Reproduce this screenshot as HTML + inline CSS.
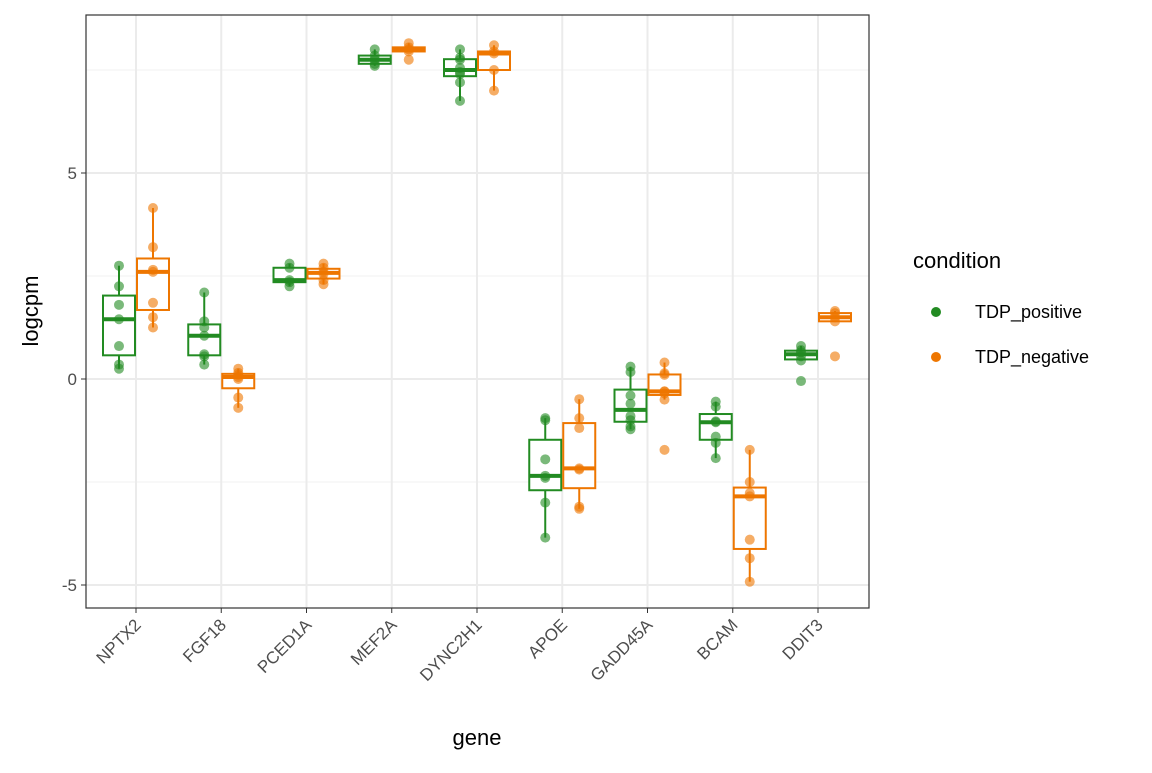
<!DOCTYPE html>
<html><head><meta charset="utf-8"><style>body{margin:0;background:#fff}text{font-family:"Liberation Sans",sans-serif}</style></head>
<body>
<svg id="chart" width="1152" height="768" xmlns="http://www.w3.org/2000/svg"></svg>
<script>
const genes=["NPTX2","FGF18","PCED1A","MEF2A","DYNC2H1","APOE","GADD45A","BCAM","DDIT3"];
const conditions=["TDP_positive","TDP_negative"];
const posValues=[
[2.75,2.25,1.8,1.45,0.8,0.35,0.25],
[2.1,1.4,1.25,1.05,0.6,0.55,0.35],
[2.8,2.7,2.4,2.35,2.25],
[8.0,7.85,7.75,7.65,7.6],
[8.0,7.8,7.75,7.55,7.45,7.4,7.2,6.75],
[-0.95,-1.0,-1.95,-2.35,-2.4,-3.0,-3.85],
[0.3,0.17,-0.4,-0.6,-0.9,-1.0,-1.15,-1.22],
[-0.55,-0.67,-1.03,-1.05,-1.4,-1.55,-1.92],
[0.8,0.7,0.65,0.55,0.45,-0.05]];
const negValues=[
[4.15,3.2,2.65,2.6,1.85,1.5,1.25],
[0.25,0.15,0.1,0.05,0.0,-0.45,-0.7],
[2.8,2.7,2.6,2.55,2.4,2.3],
[8.15,8.05,8.0,7.95,7.75],
[8.1,7.95,7.9,7.5,7.0],
[-0.49,-0.95,-1.19,-2.17,-2.2,-3.1,-3.15],
[0.4,0.14,0.1,-0.3,-0.3,-0.35,-0.5,-1.72],
[-1.72,-2.5,-2.77,-2.85,-3.9,-4.35,-4.92],
[1.65,1.6,1.5,1.4,0.55]];
const yTicks=[-5,0,5];
const yMinor=[-2.5,2.5,7.5];
const colors=["#228B22","#EE7600"];
const NS="http://www.w3.org/2000/svg";
const svg=document.getElementById("chart");
const L=86,R=869,T=15,B=608;
const y=v=>379-v*41.2;
const x=i=>136+i*85.25;
function mk(tag,at,parent){const e=document.createElementNS(NS,tag);for(const k in at)e.setAttribute(k,at[k]);(parent||svg).appendChild(e);return e;}
function q(a,p){const s=[...a].sort((m,n)=>m-n);const h=(s.length-1)*p,lo=Math.floor(h);return s[lo]+(s[Math.min(lo+1,s.length-1)]-s[lo])*(h-lo);}
yMinor.forEach(v=>{const l=mk("line",{x1:L,x2:R,y1:y(v),y2:y(v),stroke:"#f2f2f2","stroke-width":1});

});
yTicks.forEach(v=>{const l=mk("line",{x1:L,x2:R,y1:y(v),y2:y(v),stroke:"#ebebeb","stroke-width":2});


const tk=mk("line",{x1:L-5,x2:L,y1:y(v),y2:y(v),stroke:"#333","stroke-width":1});


const t=mk("text",{x:L-9,y:y(v)+6,"text-anchor":"end","font-size":17,fill:"#4d4d4d"});t.textContent=v;

});
genes.forEach((g,i)=>{const l=mk("line",{x1:x(i),x2:x(i),y1:T,y2:B,stroke:"#ebebeb","stroke-width":2});


const tk=mk("line",{x1:x(i),x2:x(i),y1:B,y2:B+5,stroke:"#333","stroke-width":1});


const t=mk("text",{x:0,y:0,"text-anchor":"end","font-size":17,fill:"#4d4d4d",transform:`translate(${x(i)+6},${B+18}) rotate(-45)`});t.textContent=g;

});
[posValues,negValues].forEach((series,si)=>{
 series.forEach((vals,i)=>{
  const cx=x(i)+(si?17:-17),c=colors[si],hw=16;
  const q1=q(vals,.25),q3=q(vals,.75),md=q(vals,.5),iqr=q3-q1;
  const inR=vals.filter(v=>v>=q1-1.5*iqr&&v<=q3+1.5*iqr);
  const lo=Math.min(...inR),hi=Math.max(...inR);
  const g=mk("g",{});
  
  
  mk("line",{x1:cx,x2:cx,y1:y(hi),y2:y(q3),stroke:c,"stroke-width":2},g);
  mk("line",{x1:cx,x2:cx,y1:y(q1),y2:y(lo),stroke:c,"stroke-width":2},g);
  mk("rect",{x:cx-hw,y:y(q3),width:2*hw,height:y(q1)-y(q3),fill:"#fff",stroke:c,"stroke-width":2},g);
  mk("line",{x1:cx-hw,x2:cx+hw,y1:y(md),y2:y(md),stroke:c,"stroke-width":4},g);
  vals.forEach(v=>{const p=mk("circle",{cx:cx,cy:y(v),r:5,fill:c,"fill-opacity":0.6});
   
   });
 });
});
const bd=mk("rect",{x:L,y:T,width:R-L,height:B-T,fill:"none",stroke:"#333","stroke-width":1.2});


const xt=mk("text",{x:477,y:745,"text-anchor":"middle","font-size":22,fill:"#000"});xt.textContent="gene";


const yt=mk("text",{x:0,y:0,"text-anchor":"middle","font-size":22,fill:"#000",transform:"translate(38,311) rotate(-90)"});yt.textContent="logcpm";


const lt=mk("text",{x:913,y:268,"font-size":22,fill:"#000"});lt.textContent="condition";


conditions.forEach((c,i)=>{const g=mk("g",{});
 
 
 mk("circle",{cx:936,cy:312+i*45,r:5,fill:colors[i]},g);
 const t=mk("text",{x:975,y:318+i*45,"font-size":18,fill:"#000"},g);t.textContent=c;});
</script>
</body></html>
